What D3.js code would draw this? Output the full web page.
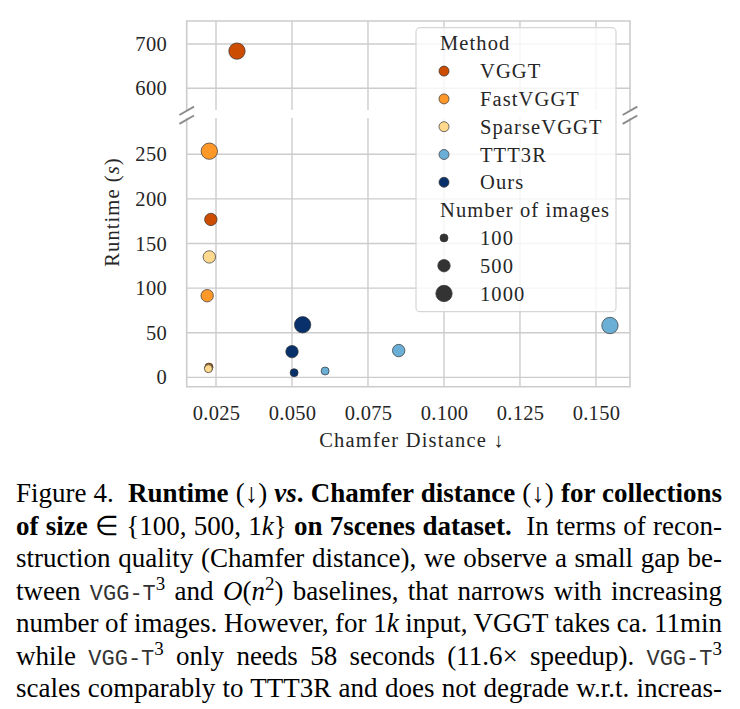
<!DOCTYPE html>
<html>
<head>
<meta charset="utf-8">
<script src="https://cdn.jsdelivr.net/npm/d3@7"></script>
<style>
  body { margin: 0; background: #fff; }
</style>
</head>
<body>
<div id="chart"></div>
<script>
// ---- data ----
const methods = ["VGGT", "FastVGGT", "SparseVGGT", "TTT3R", "Ours"];
const methodColors = ["#cc4c02", "#fe9929", "#fed98e", "#6baed6", "#08306b"];
const imageCounts = [100, 500, 1000];

// chamfer distance / runtime (s) per method, one entry per collection size
const vggtChamfer = [0.0227, 0.0233, 0.0319];
const vggtRuntime = [11.5, 177, 684];
const fastChamfer = [0.0226, 0.0221, 0.0228];
const fastRuntime = [11, 91.5, 253.5];
const sparseChamfer = [0.0225, 0.0228];
const sparseRuntime = [9.7, 135];
const tttChamfer = [0.0609, 0.0851, 0.1546];
const tttRuntime = [7.1, 30, 58.1];
const oursChamfer = [0.0507, 0.0500, 0.0535];
const oursRuntime = [5.2, 28.8, 58.9];

const xTicks = [0.025, 0.050, 0.075, 0.100, 0.125, 0.150];
const yTicksLow = [0, 50, 100, 150, 200, 250];
const yTicksHigh = [600, 700];

const serif = "'Liberation Serif', 'Times New Roman', serif";
const mono = "'Liberation Mono', 'DejaVu Sans Mono', monospace";

function main() {
    let width = 740, height = 709;
    let svg = d3.select("#chart").append("svg")
        .attr("width", width).attr("height", height)
        .attr("font-family", serif);

    let series = [
        [vggtChamfer, vggtRuntime],
        [fastChamfer, fastRuntime],
        [sparseChamfer, sparseRuntime],
        [tttChamfer, tttRuntime],
        [oursChamfer, oursRuntime]
    ];
    let points = [];
    series.forEach((s, m) => {
        s[0].forEach((c, i) => points.push({method: m, n: imageCounts[i], chamfer: c, runtime: s[1][i]}));
    });

    let left = 186.7, right = 630;
    let topA = 21, topB = 110;      // upper (broken) panel
    let botA = 118, botB = 386.7;   // lower panel
    let breakAt = 400;

    let x = d3.scaleLinear().domain([0.01536, 0.1612]).range([left, right]);
    let yHigh = d3.scaleLinear().domain([551, 752]).range([topB, topA]);
    let yLow = d3.scaleLinear().domain([-10.5, 290.7]).range([botB, botA]);
    let yOf = v => v > breakAt ? yHigh(v) : yLow(v);
    let area = d3.scaleLinear().domain([100, 1000]).range([16, 67]);
    let color = d3.scaleOrdinal().domain(d3.range(methods.length)).range(methodColors);

    let gridColor = "#cccccc";
    let textColor = "#262626";

    // grid
    let grid = svg.append("g").attr("stroke", gridColor).attr("stroke-width", 1.4);
    xTicks.forEach(t => {
        grid.append("line").attr("x1", x(t)).attr("x2", x(t)).attr("y1", topA).attr("y2", topB);
        grid.append("line").attr("x1", x(t)).attr("x2", x(t)).attr("y1", botA).attr("y2", botB);
    });
    yTicksHigh.forEach(t => grid.append("line").attr("x1", left).attr("x2", right).attr("y1", yHigh(t)).attr("y2", yHigh(t)));
    yTicksLow.forEach(t => grid.append("line").attr("x1", left).attr("x2", right).attr("y1", yLow(t)).attr("y2", yLow(t)));

    // spines
    let spines = svg.append("g").attr("stroke", gridColor).attr("stroke-width", 1.6).attr("fill", "none");
    spines.append("path").attr("d", `M${left},${topB}V${topA}H${right}V${topB}`);
    spines.append("path").attr("d", `M${left},${botA}V${botB}H${right}V${botA}`);

    // axes (labels only)
    let fs = 20.5;
    let xAxis = svg.append("g").attr("transform", `translate(0,${botB})`)
        .call(d3.axisBottom(x).tickValues(xTicks).tickFormat(d3.format(".3f")).tickSize(0).tickPadding(18.7));
    let yAxisHigh = svg.append("g").attr("transform", `translate(${left},0)`)
        .call(d3.axisLeft(yHigh).tickValues(yTicksHigh).tickSize(0).tickPadding(19.7));
    let yAxisLow = svg.append("g").attr("transform", `translate(${left},0)`)
        .call(d3.axisLeft(yLow).tickValues(yTicksLow).tickSize(0).tickPadding(19.7));
    [xAxis, yAxisHigh, yAxisLow].forEach(a => {
        a.attr("font-family", serif).attr("font-size", fs);
        a.select(".domain").remove();
        a.selectAll("text").attr("fill", textColor).attr("letter-spacing", 0.3);
    });

    // axis titles
    svg.append("text")
        .attr("x", 412).attr("y", 447).attr("fill", textColor)
        .attr("text-anchor", "middle").attr("font-size", fs).attr("letter-spacing", 1.2)
        .text("Chamfer Distance \u2193");
    let yl = svg.append("text")
        .attr("transform", "translate(112,212) rotate(-90)").attr("fill", textColor)
        .attr("text-anchor", "middle").attr("dominant-baseline", "central")
        .attr("font-size", fs).attr("letter-spacing", 1.1);
    yl.append("tspan").text("Runtime (");
    yl.append("tspan").attr("font-style", "italic").text("s");
    yl.append("tspan").text(")");

    // points
    svg.append("g").selectAll("circle")
        .data(points)
        .enter()
        .append("circle")
        .attr("cx", d => x(d.chamfer))
        .attr("cy", d => yOf(d.runtime))
        .attr("r", d => Math.sqrt(area(d.n)))
        .attr("fill", d => color(d.method))
        .attr("stroke", "#333")
        .attr("stroke-width", 0.7);

    // break marks
    let brk = svg.append("g").attr("stroke", "#8c8c8c").attr("stroke-width", 2);
    [left, right].forEach(bx => {
        [topB + 0.8, botA + 1.7].forEach(by => {
            brk.append("line")
                .attr("x1", bx - 7.3).attr("y1", by + 4.2)
                .attr("x2", bx + 7.3).attr("y2", by - 4.2);
        });
    });

    // legend
    let lg = svg.append("g").attr("fill", textColor).attr("font-size", fs);
    lg.append("rect")
        .attr("x", 416).attr("y", 27.7).attr("width", 200).attr("height", 284)
        .attr("rx", 4).attr("fill", "#fff").attr("fill-opacity", 0.8)
        .attr("stroke", "#d6d6d6").attr("stroke-width", 1.2);
    let rowY = i => 43.3 + i * 27.8;
    let addText = (xx, i, s) => lg.append("text")
        .attr("x", xx).attr("y", rowY(i)).attr("dy", "0.35em")
        .attr("letter-spacing", 1.1).text(s);

    addText(440, 0, "Method");
    methods.forEach((m, i) => {
        lg.append("circle").attr("cx", 444).attr("cy", rowY(i + 1)).attr("r", 5)
            .attr("fill", color(i)).attr("stroke", "#333").attr("stroke-width", 0.7);
        addText(480, i + 1, m);
    });
    addText(440, 6, "Number of images");
    imageCounts.forEach((n, i) => {
        lg.append("circle").attr("cx", 444).attr("cy", rowY(i + 7)).attr("r", Math.sqrt(area(n)))
            .attr("fill", "#333").attr("stroke", "#333").attr("stroke-width", 0.7);
        addText(480, i + 7, n);
    });

    // caption
    let caption = [
        [["Figure 4.  ", "n"], ["Runtime ", "b"], ["(\u2193) ", "n"], ["vs", "bi"], [". Chamfer distance ", "b"], ["(\u2193) ", "n"], ["for collections", "b"]],
        [["of size", "b"], [" \u2208 {100, 500, 1", "n"], ["k", "i"], ["} ", "n"], ["on 7scenes dataset.", "b"], ["  In terms of recon-", "n"]],
        [["struction quality (Chamfer distance), we observe a small gap be-", "n"]],
        [["tween ", "n"], ["VGG-T", "m"], ["3", "sup"], [" and ", "n"], ["O", "i"], ["(", "n"], ["n", "i"], ["2", "sup"], [") baselines, that narrows with increasing", "n"]],
        [["number of images. However, for 1", "n"], ["k", "i"], [" input, VGGT takes ca. 11min", "n"]],
        [["while ", "n"], ["VGG-T", "m"], ["3", "sup"], [" only needs 58 seconds (11.6\u00d7 speedup). ", "n"], ["VGG-T", "m"], ["3", "sup"]],
        [["scales comparably to TTT3R and does not degrade w.r.t. increas-", "n"]]
    ];
    let capLeft = 16, capRight = 722, capFs = 27;
    caption.forEach((runs, li) => {
        let t = svg.append("text")
            .attr("x", capLeft).attr("y", 502 + li * 32.5)
            .attr("font-size", capFs).attr("fill", "#000")
            .attr("font-family", serif)
            .attr("xml:space", "preserve");
        let shift = 0;
        runs.forEach(([s, st]) => {
            let sp = t.append("tspan").text(s);
            if (st === "b") sp.attr("font-weight", "bold");
            if (st === "bi") sp.attr("font-weight", "bold").attr("font-style", "italic");
            if (st === "i") sp.attr("font-style", "italic");
            if (st === "m") sp.attr("font-family", mono).attr("font-size", 22).attr("fill", "#333");
            if (st === "sup") {
                sp.attr("font-size", 19).attr("dy", -10);
                shift = 10;
            } else if (shift) {
                sp.attr("dy", shift);
                shift = 0;
            }
        });
        let natural = t.node().getComputedTextLength();
        let spaces = runs.map(r => r[0]).join("").split(" ").length - 1;
        if (spaces > 0) t.attr("word-spacing", (capRight - capLeft - natural) / spaces);
    });
}
main();
</script>
</body>
</html>
